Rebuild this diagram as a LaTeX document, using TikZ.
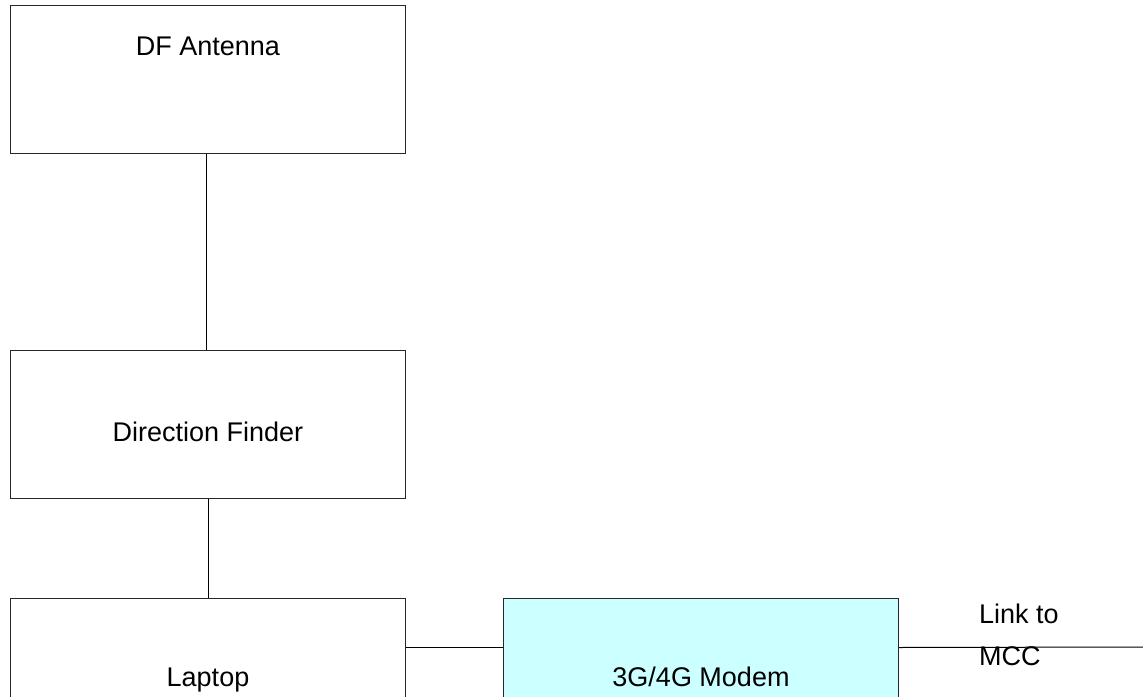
\documentclass[tikz,border=0pt]{standalone}
\usepackage{fontspec}
\setmainfont{Liberation Sans}
\definecolor{modemfill}{RGB}{204,255,255}
\definecolor{strokegray}{RGB}{40,40,40}
\begin{document}
\begin{tikzpicture}[x=1pt,y=-1pt,
  blockbox/.style={draw=strokegray, line width=1pt, minimum width=395pt, minimum height=148pt, inner sep=0pt, anchor=north west},
  wire/.style={draw=black, line width=1pt},
  lbl/.style={font=\fontsize{27pt}{32pt}\selectfont, inner sep=0pt, anchor=base}]
\clip (0,0) rectangle (1143,696);
\fill[white] (0,0) rectangle (1143,696);
% boxes
\node[blockbox] (ant) at (10,5) {};
\node[blockbox] (df) at (10,350) {};
\node[blockbox] (lap) at (10,598) {};
\node[blockbox, fill=modemfill] (mod) at (503,598) {};
% texts
\node[lbl] (antt) at ([yshift=-50pt]ant.north) {DF Antenna};
\node[lbl] (dft) at ([yshift=-91pt]df.north) {Direction Finder};
\node[lbl] (lapt) at ([yshift=-88pt]lap.north) {Laptop};
\node[lbl] (modt) at ([yshift=-88pt]mod.north) {3G/4G Modem};
\coordinate (mcc) at (1143,647);
\node[lbl, anchor=base west] (link1) at (979,623) {Link to};
\node[lbl, anchor=base west] (link2) at (979,665) {MCC};
% connectors
\draw[wire] ([xshift=-2pt]ant.south) -- ([xshift=-2pt]df.north);
\draw[wire] (df.south) -- (lap.north);
\draw[wire] ([yshift=25pt]lap.east) -- ([yshift=25pt]mod.west);
\draw[wire] ([yshift=25pt]mod.east) -- (mcc);
\end{tikzpicture}
\end{document}
